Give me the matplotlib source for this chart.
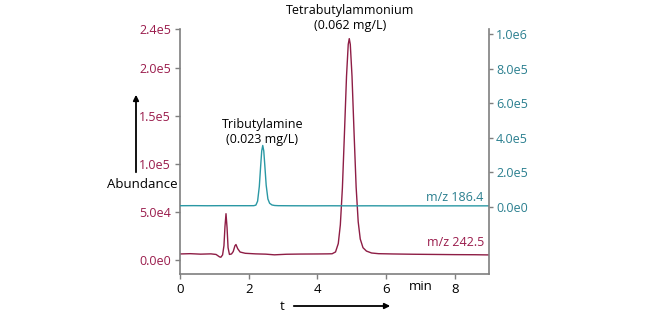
import matplotlib
matplotlib.use("Agg")
import matplotlib.pyplot as plt

plt.rcParams['font.family'] = ['Open Sans', 'DejaVu Sans']

RED = '#9a1c4c'
RED_LINE = '#8e1d45'
TEAL = '#2a7f8f'
TEAL_LINE = '#2a98a4'
GRAY = '#7f7f7f'

# m/z 242.5 trace (left axis, abundance)
red_t = [0.0, 0.3, 0.6, 0.9, 1.05, 1.15, 1.19, 1.24, 1.28, 1.31, 1.34, 1.37, 1.40, 1.44,
         1.50, 1.55, 1.60, 1.63, 1.68, 1.75, 1.90, 2.2, 2.5, 2.75, 3.1, 3.5, 4.0, 4.3,
         4.43, 4.53, 4.61, 4.67, 4.73, 4.79, 4.85, 4.90, 4.93, 4.96, 5.01, 5.07, 5.13,
         5.19, 5.25, 5.33, 5.43, 5.58, 5.78, 6.2, 6.8, 7.4, 8.0, 8.6, 9.0]
red_v = [6.5e3, 6.8e3, 6.3e3, 6.6e3, 6.0e3, 3.5e3, 3.1e3, 5.5e3, 1.5e4, 3.5e4, 4.83e4, 3.4e4, 1.3e4, 6.0e3,
         6.5e3, 9.0e3, 1.5e4, 1.63e4, 1.2e4, 8.5e3, 7.2e3, 6.6e3, 6.3e3, 5.6e3, 6.2e3, 6.4e3, 6.5e3, 6.6e3,
         6.7e3, 8.6e3, 1.73e4, 3.67e4, 7.5e4, 1.32e5, 1.91e5, 2.24e5, 2.30e5, 2.24e5, 1.91e5, 1.32e5, 7.6e4,
         4.0e4, 2.2e4, 1.3e4, 9.5e3, 7.5e3, 6.8e3, 6.5e3, 6.2e3, 6.0e3, 5.8e3, 5.7e3, 5.5e3]

# m/z 186.4 trace (right axis)
teal_t = [0.0, 0.4, 0.8, 1.2, 1.6, 2.0, 2.15, 2.21, 2.26, 2.31, 2.35, 2.38, 2.41, 2.44,
          2.47, 2.51, 2.56, 2.61, 2.68, 2.76, 2.86, 3.2, 3.8, 4.4, 5.0, 5.6, 6.2, 6.8,
          7.4, 8.0, 8.6, 9.0]
teal_v = [5.8e3, 6.2e3, 5.6e3, 6.0e3, 5.9e3, 5.8e3, 6.0e3, 9.3e3, 3.2e4, 1.17e5, 2.38e5, 3.23e5, 3.55e5, 3.23e5,
          2.40e5, 1.25e5, 4.5e4, 2.0e4, 1.0e4, 7.0e3, 6.0e3, 5.5e3, 5.2e3, 5.4e3, 5.0e3, 5.3e3, 4.9e3, 5.1e3,
          4.8e3, 5.0e3, 4.9e3, 5.0e3]

left_ticks = [0, 5e4, 1e5, 1.5e5, 2e5, 2.4e5]
left_labels = ['0.0e0', '5.0e4', '1.0e5', '1.5e5', '2.0e5', '2.4e5']
right_ticks = [0, 2e5, 4e5, 6e5, 8e5, 1e6]
right_labels = ['0.0e0', '2.0e5', '4.0e5', '6.0e5', '8.0e5', '1.0e6']
x_ticks = [0, 2, 4, 6, 8]
x_labels = ['0', '2', '4', '6', '8']

fig = plt.figure(figsize=(6.6, 3.18), dpi=100)
ax = fig.add_axes([180/660, 44/318, 309/660, 245/318])
ax2 = ax.twinx()

ax.plot(red_t, red_v, color=RED_LINE, lw=1.0)
ax2.plot(teal_t, teal_v, color=TEAL_LINE, lw=1.0)

ax.set_xlim(0, 9)
ax.set_ylim(-1.43e4, 2.36e5)
ax2.set_ylim(-3.9e5, 1.03e6)

ax.set_xticks(x_ticks)
ax.set_xticklabels(x_labels)
ax.set_yticks(left_ticks)
ax.set_yticklabels(left_labels)
ax2.set_yticks(right_ticks)
ax2.set_yticklabels(right_labels)

for a in (ax, ax2):
    for s in a.spines.values():
        s.set_color(GRAY)
        s.set_linewidth(1.2)
    a.spines['top'].set_visible(False)
ax.spines['right'].set_visible(False)
ax2.spines['left'].set_visible(False)
ax2.spines['bottom'].set_visible(False)

ax.tick_params(axis='y', colors=GRAY, labelcolor=RED, labelsize=9, length=3.5, width=1, pad=3)
ax.tick_params(axis='x', colors=GRAY, labelcolor='black', labelsize=9.5, length=3.5, width=1, pad=3)
ax2.tick_params(axis='y', colors=GRAY, labelcolor=TEAL, labelsize=9, length=3, width=1, pad=2)

ax.text(7.0, -0.052, 'min', transform=ax.get_xaxis_transform(), ha='center', va='center',
        fontsize=9.5, color='black')

# trace labels
ax.text(8.85, 1.85e4, 'm/z 242.5', ha='right', va='center', fontsize=9, color=RED)
ax2.text(8.85, 5.6e4, 'm/z 186.4', ha='right', va='center', fontsize=9, color=TEAL)

# peak annotations
fig.text(350/660, 1 - 4/318, 'Tetrabutylammonium\n(0.062 mg/L)',
         ha='center', va='top', fontsize=9, color='black', linespacing=1.25)
ax2.text(2.4, 3.5e5, 'Tributylamine\n(0.023 mg/L)', ha='center', va='bottom',
         fontsize=9, color='black', linespacing=1.25)

# axis labels with arrows
fig.text(142/660, 1 - 185/318, 'Abundance', ha='center', va='center', fontsize=9.5)
fig.add_artist(matplotlib.patches.FancyArrowPatch(
    (136/660, 1 - 175/318), (136/660, 1 - 92/318), transform=fig.transFigure,
    arrowstyle='-|>', mutation_scale=8, lw=1.3, color='black'))
fig.text(282/660, 1 - 307/318, 't', ha='center', va='center', fontsize=9.5)
fig.add_artist(matplotlib.patches.FancyArrowPatch(
    (291/660, 1 - 306/318), (393/660, 1 - 306/318), transform=fig.transFigure,
    arrowstyle='-|>', mutation_scale=8, lw=1.3, color='black'))

fig.savefig('out.png', dpi=100)
